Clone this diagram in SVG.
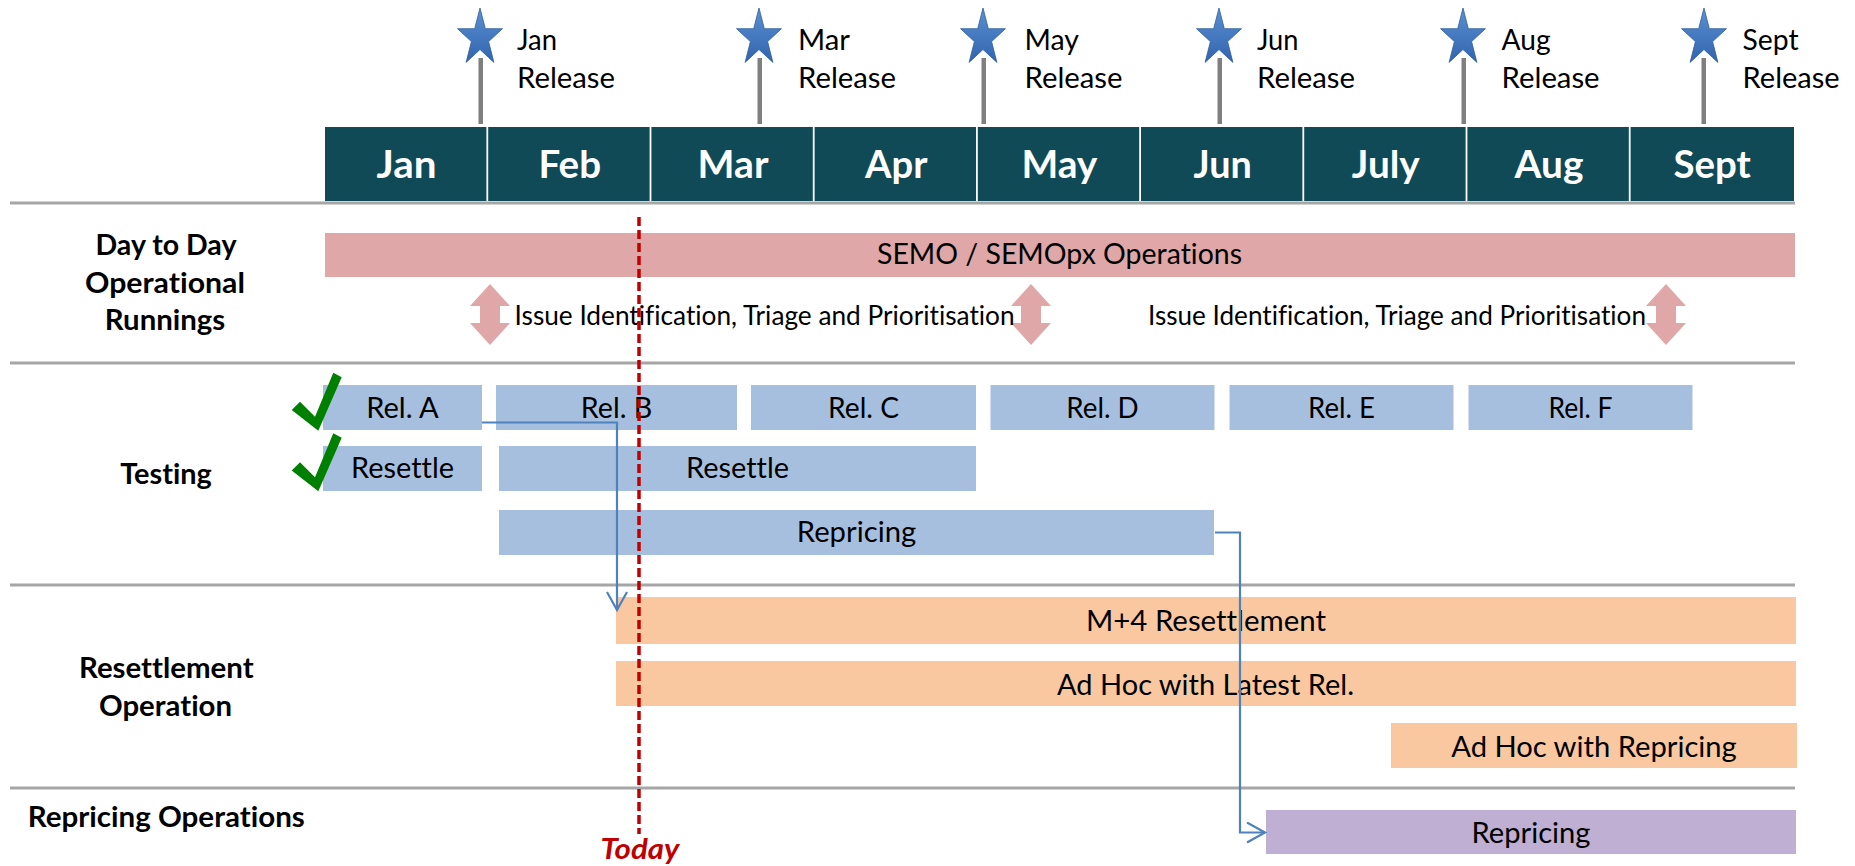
<svg xmlns="http://www.w3.org/2000/svg" width="1855" height="866" viewBox="0 0 1855 866">
<defs>
<style>
text{font-family:Lato,"Open Sans","Liberation Sans",sans-serif;fill:#000;font-variant-ligatures:none}
.mon{font-size:38px;font-weight:bold;fill:#fff;text-anchor:middle}
.rel{font-size:29px}
.lbl{font-size:29px;font-weight:bold;text-anchor:middle}
.bt{font-size:29px;text-anchor:middle}
.iss{font-size:26px}
.sep{stroke:#a6a6a6;stroke-width:3}
.cell{fill:#0f4a56}
.stem{fill:#7f7f7f}
.blue{fill:#a7bfde}
.pink{fill:#dfa7a7}
.orange{fill:#f9c8a0}
.purple{fill:#bfafd3}
.chk{fill:#008000}
.conn{fill:none;stroke:#4f81bd;stroke-width:2.2}
</style>
<linearGradient id="sg" x1="0" y1="0" x2="0" y2="1">
<stop offset="0" stop-color="#5b90d3"/>
<stop offset="1" stop-color="#3164ad"/>
</linearGradient>
<path id="star" d="M0,-30 L5.3,-9.3 L22.5,-9.3 L8.6,3.6 L13.9,24.4 L0,11.5 L-13.9,24.4 L-8.6,3.6 L-22.5,-9.3 L-5.3,-9.3 Z" fill="url(#sg)" stroke="#2d5d9e" stroke-width="0.8"/>
<path id="darr" d="M0,284 L20,306 L10,306 L10,323 L20,323 L0,345 L-20,323 L-10,323 L-10,306 L-20,306 Z" fill="#dfa7a7"/>
<path id="check" d="M291.7,410 L300,401.7 L315,416.7 L333.3,372.7 L341.7,377.3 L318.3,430.7 Z"/>
<marker id="ah" markerUnits="userSpaceOnUse" markerWidth="24" markerHeight="26" refX="19" refY="11" orient="auto">
<path d="M1,1 L19,11 L1,21" fill="none" stroke="#4f81bd" stroke-width="2.2"/>
</marker>
</defs>
<rect width="1855" height="866" fill="#fff"/>

<g id="separators">
<line class="sep" x1="10" y1="203" x2="1795" y2="203"/>
<line class="sep" x1="10" y1="363" x2="1795" y2="363"/>
<line class="sep" x1="10" y1="585" x2="1795" y2="585"/>
<line class="sep" x1="10" y1="788" x2="1795" y2="788"/>
</g>

<g id="releases">
<g id="rel-jan"><rect class="stem" x="478.5" y="58" width="4.5" height="66"/><use href="#star" x="480" y="38"/><text class="rel" x="517" y="50" textLength="40" lengthAdjust="spacingAndGlyphs">Jan</text><text class="rel" x="517" y="88" textLength="98" lengthAdjust="spacingAndGlyphs">Release</text></g>
<g id="rel-mar"><rect class="stem" x="757.5" y="58" width="4.5" height="66"/><use href="#star" x="759" y="38"/><text class="rel" x="798" y="50" textLength="52" lengthAdjust="spacingAndGlyphs">Mar</text><text class="rel" x="798" y="88" textLength="98" lengthAdjust="spacingAndGlyphs">Release</text></g>
<g id="rel-may"><rect class="stem" x="981.5" y="58" width="4.5" height="66"/><use href="#star" x="983" y="38"/><text class="rel" x="1024.5" y="50" textLength="54.5" lengthAdjust="spacingAndGlyphs">May</text><text class="rel" x="1024.5" y="88" textLength="98" lengthAdjust="spacingAndGlyphs">Release</text></g>
<g id="rel-jun"><rect class="stem" x="1217.5" y="58" width="4.5" height="66"/><use href="#star" x="1219" y="38"/><text class="rel" x="1257" y="50" textLength="41.5" lengthAdjust="spacingAndGlyphs">Jun</text><text class="rel" x="1257" y="88" textLength="98" lengthAdjust="spacingAndGlyphs">Release</text></g>
<g id="rel-aug"><rect class="stem" x="1461.5" y="58" width="4.5" height="66"/><use href="#star" x="1463" y="38"/><text class="rel" x="1501.6" y="50" textLength="49" lengthAdjust="spacingAndGlyphs">Aug</text><text class="rel" x="1501.6" y="88" textLength="98" lengthAdjust="spacingAndGlyphs">Release</text></g>
<g id="rel-sept"><rect class="stem" x="1701.5" y="58" width="4.5" height="66"/><use href="#star" x="1704" y="38"/><text class="rel" x="1742.6" y="50" textLength="56" lengthAdjust="spacingAndGlyphs">Sept</text><text class="rel" x="1742.6" y="88" textLength="97" lengthAdjust="spacingAndGlyphs">Release</text></g>
</g>

<g id="months">
<g id="m-jan"><rect class="cell" x="325" y="127" width="161.4" height="74"/><text class="mon" x="406.6" y="178" textLength="60" lengthAdjust="spacingAndGlyphs">Jan</text></g>
<g id="m-feb"><rect class="cell" x="488.2" y="127" width="161.4" height="74"/><text class="mon" x="569.8" y="178" textLength="62.5" lengthAdjust="spacingAndGlyphs">Feb</text></g>
<g id="m-mar"><rect class="cell" x="651.4" y="127" width="161.4" height="74"/><text class="mon" x="733" y="178" textLength="71" lengthAdjust="spacingAndGlyphs">Mar</text></g>
<g id="m-apr"><rect class="cell" x="814.6" y="127" width="161.4" height="74"/><text class="mon" x="896.2" y="178" textLength="62.5" lengthAdjust="spacingAndGlyphs">Apr</text></g>
<g id="m-may"><rect class="cell" x="977.8" y="127" width="161.4" height="74"/><text class="mon" x="1059.4" y="178" textLength="76" lengthAdjust="spacingAndGlyphs">May</text></g>
<g id="m-jun"><rect class="cell" x="1141" y="127" width="161.4" height="74"/><text class="mon" x="1222.6" y="178" textLength="58.3" lengthAdjust="spacingAndGlyphs">Jun</text></g>
<g id="m-jul"><rect class="cell" x="1304.2" y="127" width="161.4" height="74"/><text class="mon" x="1385.8" y="178" textLength="68" lengthAdjust="spacingAndGlyphs">July</text></g>
<g id="m-aug"><rect class="cell" x="1467.4" y="127" width="161.4" height="74"/><text class="mon" x="1549" y="178" textLength="69" lengthAdjust="spacingAndGlyphs">Aug</text></g>
<g id="m-sept"><rect class="cell" x="1630.6" y="127" width="163.4" height="74"/><text class="mon" x="1712.2" y="178" textLength="77.4" lengthAdjust="spacingAndGlyphs">Sept</text></g>
</g>

<g id="row-labels">
<g id="lbl-day"><text class="lbl" x="166" y="255" textLength="141" lengthAdjust="spacingAndGlyphs">Day to Day</text><text class="lbl" x="165" y="292.5" textLength="160" lengthAdjust="spacingAndGlyphs">Operational</text><text class="lbl" x="165" y="330" textLength="120.5" lengthAdjust="spacingAndGlyphs">Runnings</text></g>
<g id="lbl-testing"><text class="lbl" x="166" y="484" textLength="91.5" lengthAdjust="spacingAndGlyphs">Testing</text></g>
<g id="lbl-resettlement"><text class="lbl" x="166.3" y="678" textLength="174.6" lengthAdjust="spacingAndGlyphs">Resettlement</text><text class="lbl" x="165.5" y="716" textLength="133" lengthAdjust="spacingAndGlyphs">Operation</text></g>
<g id="lbl-repricing"><text class="lbl" x="166.3" y="827" textLength="277" lengthAdjust="spacingAndGlyphs">Repricing Operations</text></g>
</g>

<g id="semo"><rect class="pink" x="325" y="233" width="1470" height="44"/><text class="bt" x="1059.5" y="264" textLength="365" lengthAdjust="spacingAndGlyphs">SEMO / SEMOpx Operations</text></g>
<g id="issue-arrows">
<use href="#darr" x="490"/>
<use href="#darr" x="1031"/>
<use href="#darr" x="1666"/>
</g>
<g id="issue-1"><text class="iss" x="514.6" y="325" textLength="500" lengthAdjust="spacingAndGlyphs">Issue Identification, Triage and Prioritisation</text></g>
<g id="issue-2"><text class="iss" x="1148" y="325" textLength="498" lengthAdjust="spacingAndGlyphs">Issue Identification, Triage and Prioritisation</text></g>

<g id="rel-a"><rect class="blue" x="323" y="385" width="159" height="45"/><text class="bt" x="402.5" y="418" textLength="72.5" lengthAdjust="spacingAndGlyphs">Rel. A</text></g>
<g id="rel-b"><rect class="blue" x="496" y="385" width="241" height="45"/><text class="bt" x="616.5" y="418" textLength="71.5" lengthAdjust="spacingAndGlyphs">Rel. B</text></g>
<g id="rel-c"><rect class="blue" x="751" y="385" width="225" height="45"/><text class="bt" x="863.5" y="418" textLength="71" lengthAdjust="spacingAndGlyphs">Rel. C</text></g>
<g id="rel-d"><rect class="blue" x="990.5" y="385" width="224" height="45"/><text class="bt" x="1102.5" y="418" textLength="72.5" lengthAdjust="spacingAndGlyphs">Rel. D</text></g>
<g id="rel-e"><rect class="blue" x="1229.5" y="385" width="224" height="45"/><text class="bt" x="1341.5" y="418" textLength="67" lengthAdjust="spacingAndGlyphs">Rel. E</text></g>
<g id="rel-f"><rect class="blue" x="1468.5" y="385" width="224" height="45"/><text class="bt" x="1580.5" y="418" textLength="64" lengthAdjust="spacingAndGlyphs">Rel. F</text></g>
<g id="resettle-a"><rect class="blue" x="323" y="446" width="159" height="45"/><text class="bt" x="402.5" y="478" textLength="103" lengthAdjust="spacingAndGlyphs">Resettle</text></g>
<g id="resettle-b"><rect class="blue" x="499" y="446" width="477" height="45"/><text class="bt" x="737.5" y="478" textLength="103" lengthAdjust="spacingAndGlyphs">Resettle</text></g>
<g id="repricing-test"><rect class="blue" x="499" y="510" width="715" height="45"/><text class="bt" x="856.5" y="541.5" textLength="119.4" lengthAdjust="spacingAndGlyphs">Repricing</text></g>
<g id="checks">
<use href="#check" class="chk"/>
<use href="#check" class="chk" y="60.5"/>
</g>

<g id="m4-resettlement"><rect class="orange" x="616" y="597" width="1180" height="47"/><text class="bt" x="1206" y="631" textLength="240" lengthAdjust="spacingAndGlyphs">M+4 Resettlement</text></g>
<g id="adhoc-latest"><rect class="orange" x="616" y="661" width="1180" height="45"/><text class="bt" x="1205.5" y="694.5" textLength="297" lengthAdjust="spacingAndGlyphs">Ad Hoc with Latest Rel.</text></g>
<g id="adhoc-repricing"><rect class="orange" x="1391" y="723" width="406" height="45"/><text class="bt" x="1594" y="756.5" textLength="285.5" lengthAdjust="spacingAndGlyphs">Ad Hoc with Repricing</text></g>
<g id="repricing-op"><rect class="purple" x="1266" y="810" width="530" height="44"/><text class="bt" x="1531" y="842.5" textLength="119" lengthAdjust="spacingAndGlyphs">Repricing</text></g>

<g id="connectors">
<path class="conn" d="M482,422.5 H617 V610" marker-end="url(#ah)"/>
<path class="conn" d="M1215,532.5 H1240 V832.5 H1265" marker-end="url(#ah)"/>
</g>

<g id="today">
<line x1="639" y1="217" x2="639" y2="834" stroke="#c00000" stroke-width="3.5" stroke-dasharray="9,4"/>
<text x="640" y="859" font-size="28" font-weight="bold" font-style="italic" style="fill:#c00000" text-anchor="middle" textLength="79" lengthAdjust="spacingAndGlyphs">Today</text>
</g>
</svg>
